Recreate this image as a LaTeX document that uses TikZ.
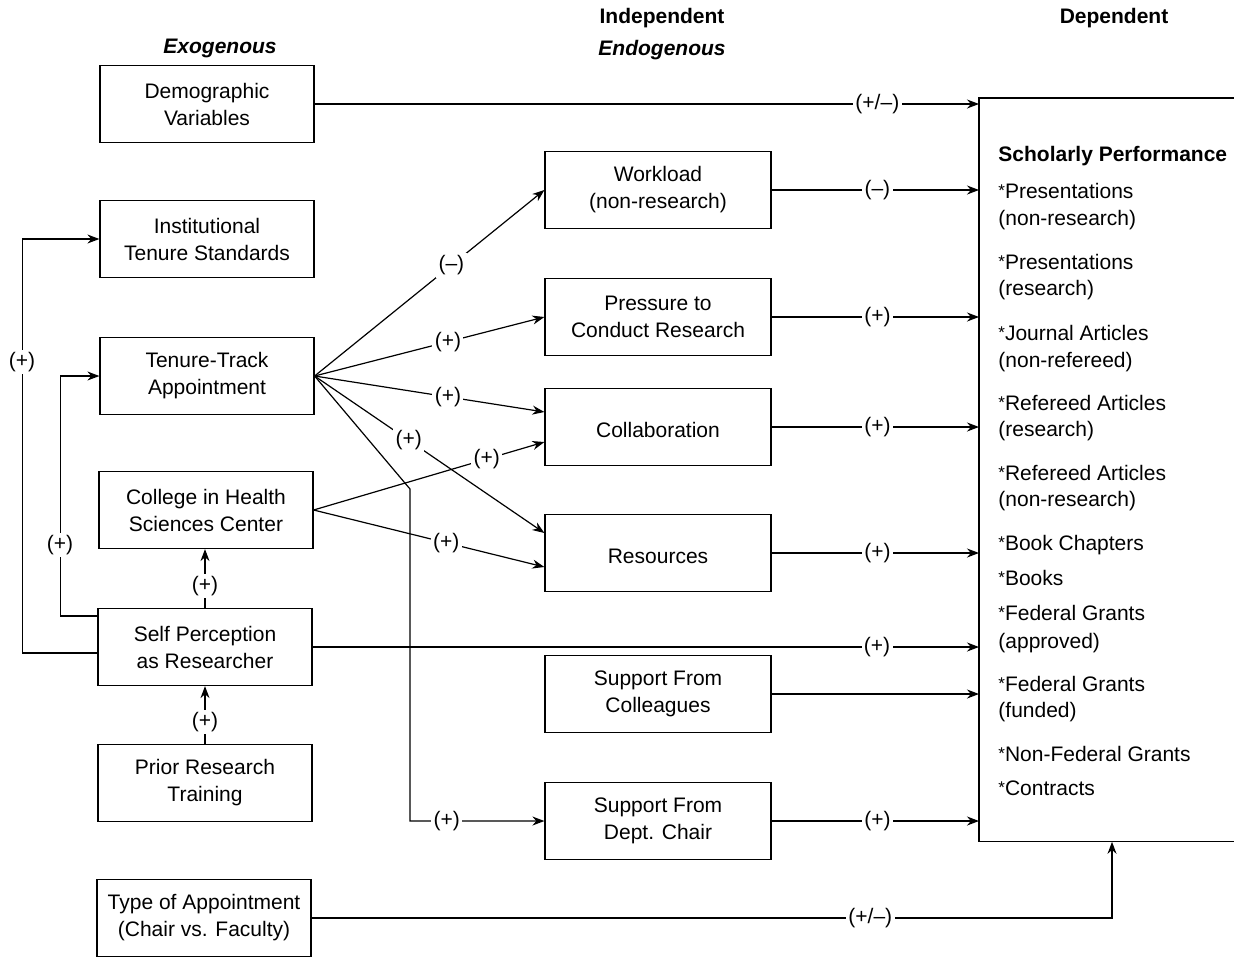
\documentclass[tikz,border=0pt]{standalone}
\usepackage{fontspec}
\setmainfont{Liberation Sans}
\usetikzlibrary{arrows.meta,calc}
\newcommand{\myast}{\raisebox{1pt}{\fontsize{8.5}{8.5}\selectfont *}}
\begin{document}
\begin{tikzpicture}[x=0.5pt,y=-0.5pt,
  font=\fontsize{10.5}{13.5}\selectfont,
  box/.style={draw,line width=0.6pt,minimum width=107pt,minimum height=38.5pt,align=center,inner sep=2pt,
    execute at begin node={\rule{0pt}{10.8pt}}},
  mbox/.style={box,minimum width=113pt},
  conn/.style={line width=0.6pt,-{Stealth[length=6pt,width=4.5pt]}},
  plain/.style={line width=0.6pt},
  lab/.style={fill=white,inner sep=1.2pt},
  hdr/.style={font=\fontsize{10.5}{13.5}\selectfont\bfseries},
  hdri/.style={font=\fontsize{10.5}{13.5}\selectfont\bfseries\itshape},
  item/.style={anchor=west,inner sep=0pt,text height=7.6pt,text depth=2.2pt}
]
\useasboundingbox (0,0) rectangle (1234,959);

% headers
\node[hdri] (exo) at (220,48) {Exogenous};
\node[hdr] (indep) at (662,18) {Independent};
\node[hdri] (endo) at (662,50) {Endogenous};
\node[hdr] (depend) at (1114,18) {Dependent};

% left column
\node[box] (demo) at (207,104) {Demographic\\Variables};
\node[box] (inst) at (207,239) {Institutional\\Tenure Standards};
\node[box] (tt) at (207,376) {Tenure-Track\\Appointment};
\node[box] (coll) at (206,510) {College in Health\\Sciences Center};
\node[box] (self) at (205,647) {Self Perception\\as Researcher};
\node[box] (prior) at (205,783) {Prior Research\\Training};
\node[box] (type) at (204,918) {Type of Appointment\\(Chair vs. Faculty)};

% middle column
\node[mbox] (work) at (658,190) {Workload\\(non-research)};
\node[mbox] (press) at (658,317) {Pressure to\\Conduct Research};
\node[mbox] (collab) at (658,427) {Collaboration};
\node[mbox] (res) at (658,553) {Resources};
\node[mbox] (suppc) at (658,694) {Support From\\Colleagues};
\node[mbox] (suppd) at (658,821) {Support From\\Dept. Chair};

% dependent box
\node[draw=none,inner sep=0pt,minimum width=127.5pt,minimum height=371.5pt,anchor=north west] (dep) at (979,98) {};
\draw[plain] (dep.north east) -- (dep.north west) -- (dep.south west) -- (dep.south east);

\node[item,font=\fontsize{10.5}{13.5}\selectfont\bfseries] (i0) at (998,156) {Scholarly Performance};
\node[item] (i1) at (998,193) {\myast Presentations};
\node[item] (i2) at (998,220) {(non-research)};
\node[item] (i3) at (998,264) {\myast Presentations};
\node[item] (i4) at (998,290) {(research)};
\node[item] (i5) at (998,335) {\myast Journal Articles};
\node[item] (i6) at (998,362) {(non-refereed)};
\node[item] (i7) at (998,405) {\myast Refereed Articles};
\node[item] (i8) at (998,431) {(research)};
\node[item] (i9) at (998,475) {\myast Refereed Articles};
\node[item] (i10) at (998,501) {(non-research)};
\node[item] (i11) at (998,545) {\myast Book Chapters};
\node[item] (i12) at (998,580) {\myast Books};
\node[item] (i13) at (998,615) {\myast Federal Grants};
\node[item] (i14) at (998,643) {(approved)};
\node[item] (i15) at (998,686) {\myast Federal Grants};
\node[item] (i16) at (998,712) {(funded)};
\node[item] (i17) at (998,756) {\myast Non-Federal Grants};
\node[item] (i18) at (998,790) {\myast Contracts};

% arrows to dependent
\draw[conn] (demo.east) -- node[lab,pos=0.847]{(+/--)} (demo.east -| dep.west);
\draw[conn] (work.east) -- node[lab,pos=0.51]{(--)} (work.east -| dep.west);
\draw[conn] (press.east) -- node[lab,pos=0.51]{(+)} (press.east -| dep.west);
\draw[conn] (collab.east) -- node[lab,pos=0.51]{(+)} (collab.east -| dep.west);
\draw[conn] (res.east) -- node[lab,pos=0.51]{(+)} (res.east -| dep.west);
\draw[conn] (self.east) -- node[lab,pos=0.847]{(+)} (self.east -| dep.west);
\draw[conn] (suppc.east) -- (suppc.east -| dep.west);
\draw[conn] (suppd.east) -- node[lab,pos=0.51]{(+)} (suppd.east -| dep.west);
\draw[conn] (type.east) -| node[lab,pos=0.349]{(+/--)} ($(dep.south west)+(133,0)$);

% tenure-track fan
\draw[conn] (tt.east) -- node[lab,pos=0.595]{(--)} (work.west);
\draw[conn] (tt.east) -- node[lab,pos=0.58]{(+)} (press.west);
\draw[conn] (tt.east) -- node[lab,pos=0.58]{(+)} ($(collab.west)+(0,-15)$);
\draw[conn] (tt.east) -- node[lab,pos=0.41]{(+)} ($(res.west)+(0,-20)$);
\coordinate (bend) at (410,489);
\draw[conn] (tt.east) -- (bend) |- node[lab,pos=0.637]{(+)} (suppd.west);

% college fan
\draw[conn] (coll.east) -- node[lab,pos=0.75]{(+)} ($(collab.west)+(0,15)$);
\draw[conn] (coll.east) -- node[lab,pos=0.575]{(+)} ($(res.west)+(0,14)$);

% vertical links
\draw[conn] (self.north) -- node[lab,pos=0.37]{(+)} (self.north |- coll.south);
\draw[conn] (prior.north) -- node[lab,pos=0.38]{(+)} (prior.north |- self.south);

% left loops
\draw[conn] ($(self.west)+(0,-31)$) -- ++(-37,0) |- (tt.west);
\node[lab] (l1) at (60,545) {(+)};
\draw[conn] ($(self.west)+(0,6)$) -- ++(-75,0) |- (inst.west);
\node[lab] (l2) at (22,362) {(+)};
\end{tikzpicture}
\end{document}
